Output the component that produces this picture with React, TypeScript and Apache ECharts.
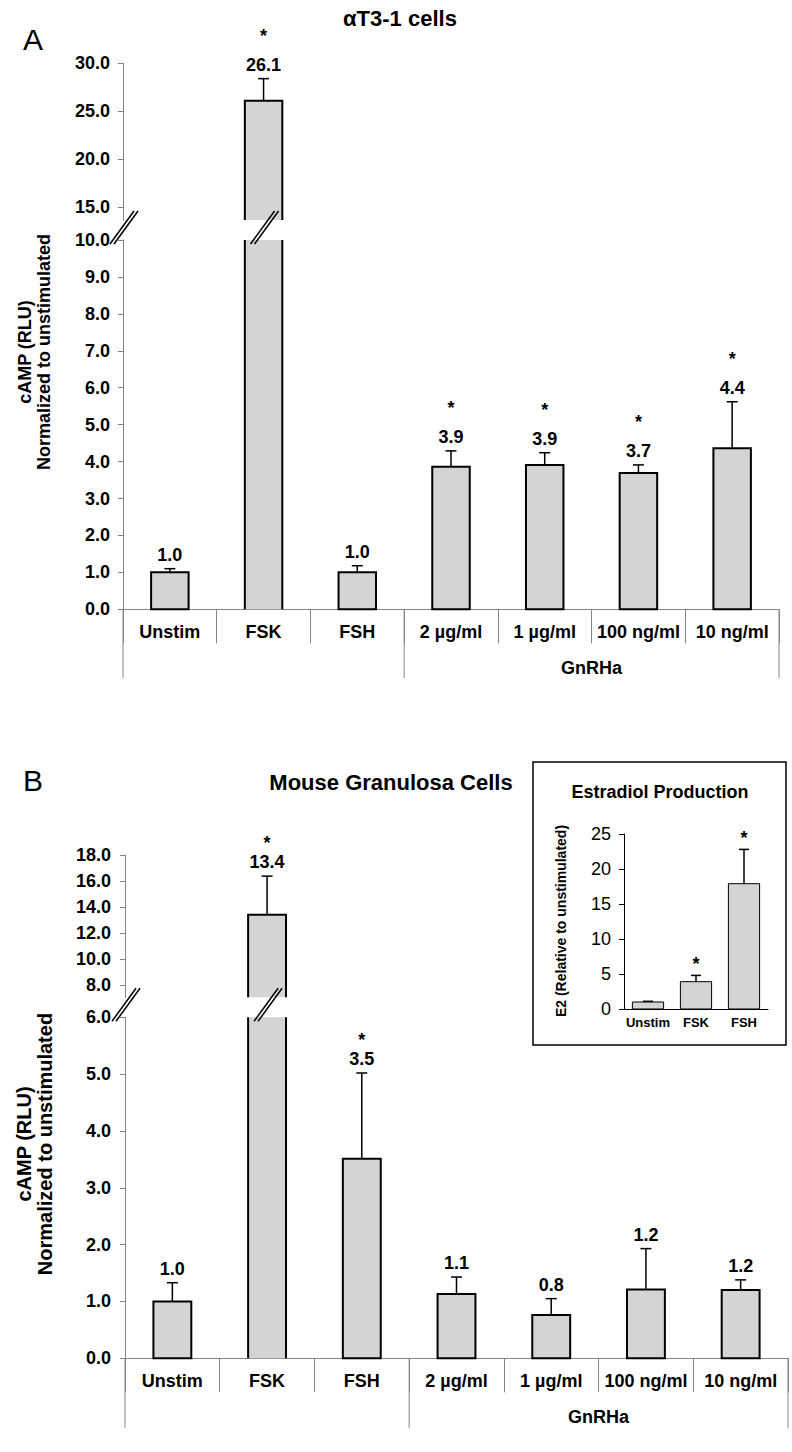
import React, { useEffect, useRef } from "react";
import * as echarts from "echarts";

// ---------- DATA ----------
const categories = ["Unstim", "FSK", "FSH", "2 µg/ml", "1 µg/ml", "100 ng/ml", "10 ng/ml"];
const groupLabel = "GnRHa";

// Panel A: alphaT3-1 cells
const aMeans = [1.0, 26.1, 1.0, 3.86, 3.91, 3.69, 4.36];
const aErrors = [0.1, 2.3, 0.18, 0.43, 0.33, 0.22, 1.26];
const aSignificant = [false, true, false, true, true, true, true];
const aUpperRange = [13.65, 30];
const aUpperTicks = [15, 20, 25, 30];
const aLowerRange = [0, 10];

// Panel B: mouse granulosa cells
const bMeans = [1.0, 13.42, 3.51, 1.13, 0.76, 1.21, 1.2];
const bErrors = [0.33, 2.96, 1.51, 0.3, 0.29, 0.72, 0.18];
const bSignificant = [false, true, true, false, false, false, false];
const bUpperRange = [7.08, 18];
const bUpperTicks = [8, 10, 12, 14, 16, 18];
const bLowerRange = [0, 6];

// Inset: estradiol production
const insetCategories = ["Unstim", "FSK", "FSH"];
const insetMeans = [1.0, 3.9, 17.9];
const insetErrors = [0.1, 0.9, 4.9];
const insetSignificant = [false, true, true];
const insetRange = [0, 25];

// ---------- STYLE / LAYOUT ----------
const FONT = "'Liberation Sans', Arial, Helvetica, sans-serif";
const BAR_FILL = "#d4d4d4";
const AXIS_GRAY = "#858585";

const PANEL_A = {
  left: 123, right: 779,
  upper: { top: 63.3, bottom: 220 },
  lower: { top: 240, bottom: 609.3 },
  letterY: 39, title: "αT3-1 cells", titleX: 400, titleY: 18,
  yTitleX: 34, yTitleY: 352, yTitleSize: 18, yTitleLH: 19,
  groupLineBottom: 678, groupLabelY: 668.3, labelMargin: 13,
};
const PANEL_B = {
  left: 125, right: 788,
  upper: { top: 855, bottom: 997.3 },
  lower: { top: 1017.3, bottom: 1358.3 },
  letterY: 780, title: "Mouse Granulosa Cells", titleX: 391, titleY: 782,
  yTitleX: 34, yTitleY: 1144, yTitleSize: 20, yTitleLH: 21,
  groupLineBottom: 1428, groupLabelY: 1416.7, labelMargin: 14,
};
const INSET = {
  box: { x: 533, y: 762, w: 253, h: 283 },
  left: 624, right: 768, top: 834, bottom: 1009,
  title: "Estradiol Production", titleX: 660, titleY: 792,
  yTitle: "E2 (Relative to unstimulated)", yTitleX: 561, yTitleY: 921,
};

type BarStyle = {
  barRatio: number; border: number; labels: boolean; labelGap: number;
  starGap: number; capHalf: number; fontSize: number; closedBottom: boolean;
};

function makeRenderItem(st: BarStyle) {
  return (params: any, api: any) => {
    const cs = params.coordSys;
    const top = cs.y;
    const bottom = cs.y + cs.height;
    const i = api.value(0);
    const mean = api.value(1);
    const err = api.value(2);
    const sig = api.value(3);
    const p = api.coord([i, mean]);
    const cx = p[0];
    const yMean = p[1];
    const yErr = api.coord([i, mean + err])[1];
    const bw = api.size([1, 0])[0] * st.barRatio;
    const children: any[] = [];
    if (yMean < bottom - 0.5) {
      const clipped = yMean < top;
      const yT = clipped ? top : yMean;
      const x0 = cx - bw / 2;
      const x1 = cx + bw / 2;
      const stroke = { stroke: "#000", lineWidth: st.border, fill: null };
      if (!clipped && st.closedBottom) {
        children.push({ type: "rect", shape: { x: x0, y: yT, width: bw, height: bottom - yT }, style: { fill: BAR_FILL, stroke: "#000", lineWidth: st.border } });
      } else {
        children.push({ type: "rect", shape: { x: x0, y: yT, width: bw, height: bottom - yT }, style: { fill: BAR_FILL } });
        if (clipped) {
          children.push({ type: "line", shape: { x1: x0, y1: yT, x2: x0, y2: bottom }, style: stroke });
          children.push({ type: "line", shape: { x1: x1, y1: yT, x2: x1, y2: bottom }, style: stroke });
        } else {
          children.push({ type: "polyline", shape: { points: [[x0, bottom], [x0, yT], [x1, yT], [x1, bottom]] }, style: stroke });
        }
      }
      if (!clipped) {
        const eStroke = { stroke: "#000", lineWidth: 1.5 };
        children.push({ type: "line", shape: { x1: cx, y1: yMean, x2: cx, y2: yErr }, style: eStroke });
        children.push({ type: "line", shape: { x1: cx - st.capHalf, y1: yErr, x2: cx + st.capHalf, y2: yErr }, style: eStroke });
        let yText = yErr;
        if (st.labels) {
          yText = yErr - st.labelGap;
          children.push({
            type: "text",
            style: { text: mean.toFixed(1), x: cx, y: yText, fill: "#000", fontSize: st.fontSize, fontWeight: "bold", fontFamily: FONT, align: "center", verticalAlign: "middle" },
          });
        }
        if (sig) {
          children.push({
            type: "text",
            style: { text: "*", x: cx, y: yText - st.starGap, fill: "#000", fontSize: st.fontSize, fontWeight: "bold", fontFamily: FONT, align: "center", verticalAlign: "middle" },
          });
        }
      }
    }
    return { type: "group", children };
  };
}

function rows(means: number[], errs: number[], sig: boolean[]) {
  return means.map((m, i) => [i, m, errs[i], sig[i] ? 1 : 0]);
}

function gridOf(left: number, right: number, top: number, bottom: number) {
  return { left, top, width: right - left, height: bottom - top, containLabel: false, outerBoundsMode: "none" };
}

const fmt1 = (v: number) => v.toFixed(1);

function yAxisOf(gridIndex: number, range: number[], opts: { ticks?: number[]; interval?: number; margin: number; bold: boolean; color: string; fmt?: (v: number) => string }) {
  const label: any = {
    show: true, margin: opts.margin, color: "#000", fontSize: 18,
    fontWeight: opts.bold ? "bold" : "normal", fontFamily: FONT,
  };
  if (opts.fmt) label.formatter = opts.fmt;
  const tick: any = { show: true, inside: false, length: 5, lineStyle: { color: opts.color, width: 1 } };
  if (opts.ticks) {
    label.customValues = opts.ticks;
    tick.customValues = opts.ticks;
  }
  const ax: any = {
    gridIndex, type: "value", min: range[0], max: range[1],
    axisLine: { show: true, lineStyle: { color: opts.color, width: 1 } },
    axisTick: tick, axisLabel: label, splitLine: { show: false },
  };
  if (opts.interval) ax.interval = opts.interval;
  return ax;
}

function xLowerOf(gridIndex: number, margin: number) {
  return {
    gridIndex, type: "category", data: categories,
    axisLine: { show: true, onZero: false, lineStyle: { color: AXIS_GRAY, width: 1 } },
    axisTick: { show: true, interval: 0, length: 34, lineStyle: { color: AXIS_GRAY, width: 1 } },
    axisLabel: { show: true, interval: 0, margin, color: "#000", fontSize: 18, fontWeight: "bold", fontFamily: FONT },
    splitLine: { show: false },
  };
}

function xHiddenOf(gridIndex: number) {
  return { gridIndex, type: "category", data: categories, show: false };
}

function panelGraphics(P: any, letter: string): any[] {
  const els: any[] = [];
  const band = (P.right - P.left) / categories.length;
  const text = (x: number, y: number, t: string, size: number, weight: string, extra: any = {}, lh?: number) => ({
    type: "text", x, y, z: 100, silent: true, ...extra,
    style: { text: t, fill: "#000", fontSize: size, fontWeight: weight, fontFamily: FONT, align: "center", verticalAlign: "middle", lineHeight: lh },
  });
  els.push({
    type: "text", x: 23, y: P.letterY, z: 100, silent: true,
    style: { text: letter, fill: "#000", fontSize: 30, fontWeight: "normal", fontFamily: FONT, align: "left", verticalAlign: "middle" },
  });
  els.push(text(P.titleX, P.titleY, P.title, 22, "bold"));
  els.push(text(P.yTitleX, P.yTitleY, "cAMP (RLU)\nNormalized to unstimulated", P.yTitleSize, "bold", { rotation: Math.PI / 2 }, P.yTitleLH));
  // group boundary lines
  [0, 3, 7].forEach((k) => {
    const x = P.left + k * band;
    els.push({ type: "line", z: 100, silent: true, shape: { x1: x, y1: P.lower.bottom, x2: x, y2: P.groupLineBottom }, style: { stroke: AXIS_GRAY, lineWidth: 1 } });
  });
  els.push(text(P.left + 5 * band, P.groupLabelY, groupLabel, 18, "bold"));
  // break marks: on axis and on FSK bar
  const gT = P.upper.bottom;
  const gB = P.lower.top;
  [P.left, P.left + 1.5 * band].forEach((X) => {
    [0, 4].forEach((o) => {
      els.push({ type: "line", z: 110, silent: true, shape: { x1: X - 13 + o, y1: gB + 4, x2: X + 11 + o, y2: gT - 9 }, style: { stroke: "#000", lineWidth: 1.5 } });
    });
  });
  return els;
}

function insetGraphics(): any[] {
  const b = INSET.box;
  return [
    { type: "rect", z: 100, silent: true, shape: { x: b.x, y: b.y, width: b.w, height: b.h }, style: { fill: "rgba(0,0,0,0)", stroke: "#000", lineWidth: 1.5 } },
    { type: "text", x: INSET.titleX, y: INSET.titleY, z: 100, silent: true, style: { text: INSET.title, fill: "#000", fontSize: 18, fontWeight: "bold", fontFamily: FONT, align: "center", verticalAlign: "middle" } },
    { type: "text", x: INSET.yTitleX, y: INSET.yTitleY, z: 100, silent: true, rotation: Math.PI / 2, style: { text: INSET.yTitle, fill: "#000", fontSize: 14, fontWeight: "bold", fontFamily: FONT, align: "center", verticalAlign: "middle" } },
  ];
}

function buildOption(): any {
  const A = PANEL_A;
  const B = PANEL_B;
  const mainStyleA: BarStyle = { barRatio: 0.4, border: 2, labels: true, labelGap: 14, starGap: 29, capHalf: 5.5, fontSize: 18, closedBottom: true };
  const mainStyleB: BarStyle = { ...mainStyleA, starGap: 19 };
  const insetStyle: BarStyle = { barRatio: 0.65, border: 1, labels: false, labelGap: 0, starGap: 11, capHalf: 5, fontSize: 18, closedBottom: true };
  return {
    animation: false,
    backgroundColor: "#fff",
    grid: [
      gridOf(A.left, A.right, A.upper.top, A.upper.bottom),
      gridOf(A.left, A.right, A.lower.top, A.lower.bottom),
      gridOf(B.left, B.right, B.upper.top, B.upper.bottom),
      gridOf(B.left, B.right, B.lower.top, B.lower.bottom),
      gridOf(INSET.left, INSET.right, INSET.top, INSET.bottom),
    ],
    xAxis: [
      xHiddenOf(0),
      xLowerOf(1, 14),
      xHiddenOf(2),
      xLowerOf(3, 14),
      {
        gridIndex: 4, type: "category", data: insetCategories,
        axisLine: { show: true, lineStyle: { color: "#000", width: 1 } },
        axisTick: { show: false },
        axisLabel: { show: true, interval: 0, margin: 7, color: "#000", fontSize: 13, fontWeight: "bold", fontFamily: FONT },
        splitLine: { show: false },
      },
    ],
    yAxis: [
      yAxisOf(0, aUpperRange, { ticks: aUpperTicks, margin: A.labelMargin, bold: true, color: AXIS_GRAY, fmt: fmt1 }),
      yAxisOf(1, aLowerRange, { interval: 1, margin: A.labelMargin, bold: true, color: AXIS_GRAY, fmt: fmt1 }),
      yAxisOf(2, bUpperRange, { ticks: bUpperTicks, margin: B.labelMargin, bold: true, color: AXIS_GRAY, fmt: fmt1 }),
      yAxisOf(3, bLowerRange, { interval: 1, margin: B.labelMargin, bold: true, color: AXIS_GRAY, fmt: fmt1 }),
      yAxisOf(4, insetRange, { interval: 5, margin: 13, bold: false, color: "#000" }),
    ],
    series: [
      { type: "custom", xAxisIndex: 0, yAxisIndex: 0, renderItem: makeRenderItem({ ...mainStyleA, closedBottom: false }), encode: { x: 0, y: 1 }, data: rows(aMeans, aErrors, aSignificant), z: 5 },
      { type: "custom", xAxisIndex: 1, yAxisIndex: 1, renderItem: makeRenderItem(mainStyleA), encode: { x: 0, y: 1 }, data: rows(aMeans, aErrors, aSignificant), z: 5 },
      { type: "custom", xAxisIndex: 2, yAxisIndex: 2, renderItem: makeRenderItem({ ...mainStyleB, closedBottom: false }), encode: { x: 0, y: 1 }, data: rows(bMeans, bErrors, bSignificant), z: 5 },
      { type: "custom", xAxisIndex: 3, yAxisIndex: 3, renderItem: makeRenderItem(mainStyleB), encode: { x: 0, y: 1 }, data: rows(bMeans, bErrors, bSignificant), z: 5 },
      { type: "custom", xAxisIndex: 4, yAxisIndex: 4, renderItem: makeRenderItem(insetStyle), encode: { x: 0, y: 1 }, data: rows(insetMeans, insetErrors, insetSignificant), z: 5 },
    ],
    graphic: { elements: [...panelGraphics(A, "A"), ...panelGraphics(B, "B"), ...insetGraphics()] },
  };
}

export default function App() {
  const ref = useRef<HTMLDivElement>(null);
  useEffect(() => {
    if (!ref.current) return;
    const chart = echarts.init(ref.current, undefined, { renderer: "svg", width: 792, height: 1452 });
    chart.setOption(buildOption());
    return () => chart.dispose();
  }, []);
  return (
    <div
      ref={ref}
      style={{ position: "absolute", left: 0, top: 0, width: 792, height: 1452, background: "#fff" }}
    />
  );
}
